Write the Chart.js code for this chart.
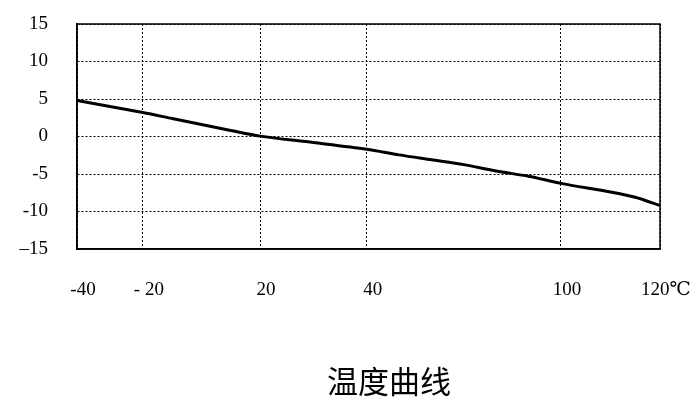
<!DOCTYPE html>
<html>
<head>
<meta charset="utf-8">
<script src="https://cdn.jsdelivr.net/npm/chart.js@4/dist/chart.umd.min.js"></script>
<style>
  html, body { margin: 0; padding: 0; background: #fff; }
  canvas { display: block; }
</style>
</head>
<body>
<canvas id="tempChart" width="698" height="409"></canvas>
<script>
const chartTitle = "温度曲线";
const temps = [-40, -30, -20, -10, 0, 10, 20, 30, 40, 50, 60, 70, 80, 90, 100, 110, 115, 120];
const values = [4.8, 4.0, 3.2, 2.4, 1.6, 0.8, 0.05, -0.8, -1.7, -2.45, -3.1, -3.75, -4.6, -5.3, -6.25, -7.4, -8.1, -9.2];
const xTicks = [-40, -20, 20, 40, 100, 120];
const xTickLabels = ["-40", "- 20", "20", "40", "100", "120℃"];
const yTicks = [-15, -10, -5, 0, 5, 10, 15];
const yTickLabels = ["–15", "-10", "-5", "0", "5", "10", "15"];

// the original axis is not evenly spaced: where each x tick sits along the axis (0..1)
const xStops = [0, 0.113, 0.314, 0.497, 0.83, 1];

function interp(v, from, to) {
  if (v <= from[0]) return to[0];
  for (let i = 1; i < from.length; i++) {
    if (v <= from[i]) {
      const t = (v - from[i - 1]) / (from[i] - from[i - 1]);
      return to[i - 1] + t * (to[i] - to[i - 1]);
    }
  }
  return to[to.length - 1];
}

class PiecewiseScale extends Chart.LinearScale {
  static id = "piecewise";
  static defaults = Chart.LinearScale.defaults;
  getPixelForValue(value) {
    return this.getPixelForDecimal(interp(value, xTicks, xStops));
  }
  getValueForPixel(pixel) {
    return interp(this.getDecimalForPixel(pixel), xStops, xTicks);
  }
}
Chart.register(PiecewiseScale);

const frame = {
  id: "frame",
  beforeDatasetsDraw(chart) {
    const { ctx, chartArea: a } = chart;
    ctx.save();
    ctx.strokeStyle = "#000";
    ctx.lineWidth = 1.5;
    ctx.strokeRect(a.left, a.top, a.right - a.left, a.bottom - a.top);
    ctx.restore();
  },
  afterDraw(chart) {
    const ctx = chart.ctx;
    ctx.save();
    ctx.fillStyle = "#000";
    ctx.font = '31px "Noto Sans CJK SC"';
    ctx.textAlign = "center";
    ctx.textBaseline = "middle";
    ctx.fillText(chartTitle, 389, 381);
    ctx.restore();
  },
};

// tick padding would otherwise be added to the outer layout padding
function noOverflow(s) {
  s.paddingTop = s.paddingBottom = s.paddingLeft = s.paddingRight = 0;
}

const serif = { family: '"Liberation Serif", "DejaVu Serif", serif', size: 19 };

new Chart(document.getElementById("tempChart").getContext("2d"), {
  type: "line",
  data: {
    datasets: [
      {
        data: temps.map((t, i) => ({ x: t, y: values[i] })),
        borderColor: "#000",
        borderWidth: 3,
        pointRadius: 0,
        tension: 0.3,
        fill: false,
      },
    ],
  },
  options: {
    responsive: false,
    animation: false,
    layout: { padding: { top: 24, right: 38, left: 0, bottom: 0 } },
    plugins: { legend: { display: false }, tooltip: { enabled: false } },
    scales: {
      x: {
        type: "piecewise",
        min: -40,
        max: 120,
        afterBuildTicks: (s) => { s.ticks = xTicks.map((v) => ({ value: v })); },
        afterFit: (s) => { s.height = 160; noOverflow(s); },
        ticks: {
          color: "#000",
          font: serif,
          padding: 30,
          labelOffset: 6,
          maxRotation: 0,
          autoSkip: false,
          callback: (v, i) => xTickLabels[i],
        },
        grid: { color: "#000", lineWidth: 1, drawTicks: false },
        border: { display: true, color: "#000", width: 1.5, dash: [2, 2] },
      },
      y: {
        min: -15,
        max: 15,
        afterBuildTicks: (s) => { s.ticks = yTicks.map((v) => ({ value: v })); },
        afterFit: (s) => { s.width = 77; noOverflow(s); },
        ticks: {
          color: "#000",
          font: serif,
          padding: 29,
          callback: (v, i) => yTickLabels[i],
        },
        grid: { color: "#000", lineWidth: 1, drawTicks: false },
        border: { display: true, color: "#000", width: 1.5, dash: [2, 2] },
      },
    },
  },
  plugins: [frame],
});
</script>
</body>
</html>
